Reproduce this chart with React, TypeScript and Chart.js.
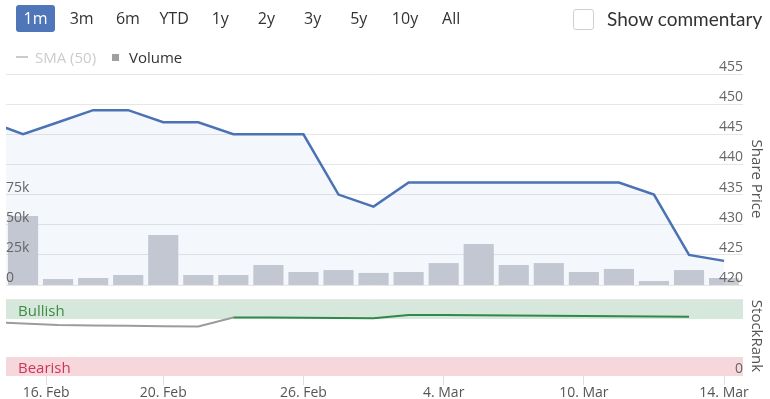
import React, { useEffect, useRef } from "react";
import { Chart, registerables } from "chart.js";

Chart.register(...registerables);

// ---- data ----
const dayIndex = [-1, 0, 1, 2, 3, 4, 5, 6, 7, 8, 9, 10, 11, 12, 13, 14, 15, 16, 17, 18, 19, 20];
const sharePrice = [447.2, 445, 447, 449, 449, 447, 447, 445, 445, 445, 435, 433, 437, 437, 437, 437, 437, 437, 437, 435, 425, 424];
const volume = [null, 57200, 5000, 5800, 8300, 41500, 8300, 8300, 16600, 10800, 12400, 10000, 10800, 18200, 34000, 16600, 18200, 10800, 13300, 3300, 12400, 5800];
const stockRank = [71, 69, 67.1, 66.6, 66.1, 65.6, 65.1, 77, 76.8, 76.7, 76.3, 75.9, 80.3, 80.1, 79.9, 79.6, 79.3, 79, 78.7, 78.4, 78, null];
const xTickPositions = [0.66, 4, 8, 12, 16, 20];
const xTickLabels = ["16. Feb", "20. Feb", "26. Feb", "4. Mar", "10. Mar", "14. Mar"];
const rangeButtons = ["1m", "3m", "6m", "YTD", "1y", "2y", "3y", "5y", "10y", "All"];
const bandLabels = ["Bullish", "Bearish"];
const bandFrom = [75, 0];
const bandTo = [100, 25];
const greenFromIndex = 6;

const X_MIN = -0.486;
const X_MAX = 20.54;
const FONT = "'Open Sans', 'DejaVu Sans', sans-serif";

const bandFill = ["#d6e8dc", "#f6d7dc"];
const bandText = ["#3d8b40", "#cf3358"];

const bandsPlugin = {
  id: "bands",
  beforeDatasetsDraw(chart: any) {
    const { ctx, chartArea, scales } = chart;
    const y = scales.y;
    ctx.save();
    bandLabels.forEach((label, i) => {
      const top = y.getPixelForValue(bandTo[i]);
      const bottom = y.getPixelForValue(bandFrom[i]);
      ctx.fillStyle = bandFill[i];
      ctx.fillRect(chartArea.left, top, chartArea.right - chartArea.left, bottom - top);
      ctx.fillStyle = bandText[i];
      ctx.font = "15px " + FONT;
      ctx.textBaseline = "middle";
      ctx.textAlign = "left";
      ctx.fillText(label, chartArea.left + 12, (top + bottom) / 2 + 2);
    });
    ctx.restore();
  },
};

const zeroWidth = (s: any) => {
  s.width = 0;
};

export default function App() {
  const mainRef = useRef<HTMLCanvasElement>(null);
  const rankRef = useRef<HTMLCanvasElement>(null);

  useEffect(() => {
    const tickFont = { family: FONT, size: 14 };
    const main = new Chart(mainRef.current as HTMLCanvasElement, {
      type: "line",
      data: {
        datasets: [
          {
            type: "line",
            label: "Share Price",
            data: dayIndex.map((x, i) => ({ x, y: sharePrice[i] })),
            yAxisID: "price",
            borderColor: "#4a72b4",
            borderWidth: 2.5,
            backgroundColor: "rgba(74,114,180,0.06)",
            fill: "start",
            pointRadius: 0,
            tension: 0,
            order: 1,
          } as any,
          {
            type: "bar",
            label: "Volume",
            data: dayIndex.map((x, i) => ({ x, y: volume[i] })),
            yAxisID: "vol",
            backgroundColor: "#cbcdd3",
            categoryPercentage: 0.86,
            barPercentage: 1,
            order: 2,
          } as any,
        ],
      },
      options: {
        animation: false,
        responsive: false,
        maintainAspectRatio: false,
        layout: { padding: { left: 6, right: 27, top: 74, bottom: 114 }, autoPadding: false } as any,
        plugins: { legend: { display: false }, tooltip: { enabled: false } },
        scales: {
          x: { type: "linear", min: X_MIN, max: X_MAX, display: false, offset: false },
          price: {
            type: "linear",
            position: "right",
            min: 420,
            max: 455,
            ticks: {
              stepSize: 5,
              mirror: true,
              padding: 0,
              labelOffset: -7,
              color: "#666",
              font: tickFont,
              z: 1,
            },
            grid: { color: "#e6e6e6", drawTicks: false },
            border: { display: false },
            afterFit: zeroWidth,
          },
          vol: {
            type: "linear",
            position: "left",
            min: 0,
            max: 175000,
            ticks: {
              stepSize: 25000,
              mirror: true,
              padding: 0,
              labelOffset: -7,
              color: "#666",
              font: tickFont,
              z: 1,
              callback: (v: any) => (v > 75000 ? "" : v === 0 ? "0" : v / 1000 + "k"),
            },
            grid: { display: false, drawTicks: false },
            border: { display: false },
            afterFit: zeroWidth,
          },
        } as any,
      },
    });

    const rank = new Chart(rankRef.current as HTMLCanvasElement, {
      type: "line",
      data: {
        datasets: [
          {
            label: "StockRank",
            data: dayIndex.map((x, i) => ({ x, y: stockRank[i] })),
            borderColor: "#2f8a47",
            borderWidth: 2,
            pointRadius: 0,
            fill: false,
            tension: 0,
            segment: {
              borderColor: (c: any) => (c.p0.parsed.x >= greenFromIndex ? "#2f8a47" : "#9c9c9c"),
            },
          } as any,
        ],
      },
      options: {
        animation: false,
        responsive: false,
        maintainAspectRatio: false,
        layout: { padding: { left: 6, right: 27, top: 299, bottom: 0 }, autoPadding: false } as any,
        plugins: { legend: { display: false }, tooltip: { enabled: false } },
        scales: {
          x: {
            type: "linear",
            min: X_MIN,
            max: X_MAX,
            offset: false,
            afterBuildTicks: (s: any) => {
              s.ticks = xTickPositions.map((v) => ({ value: v }));
            },
            ticks: {
              autoSkip: false,
              maxRotation: 0,
              padding: 0,
              color: "#555",
              font: tickFont,
              callback: (v: any) => {
                const i = xTickPositions.indexOf(v);
                return i >= 0 ? xTickLabels[i] : "";
              },
            },
            grid: { drawOnChartArea: false, drawTicks: true, tickLength: 9, color: "#dedede" },
            border: { display: false },
            afterFit: (s: any) => {
              s.height = 23;
            },
          },
          y: {
            type: "linear",
            position: "right",
            min: 0,
            max: 101.3,
            afterBuildTicks: (s: any) => {
              s.ticks = [{ value: 0 }, { value: 100 }];
            },
            ticks: {
              mirror: true,
              padding: 0,
              labelOffset: -7,
              color: "#666",
              font: tickFont,
              z: 1,
              callback: (v: any) => (v === 0 ? "0" : ""),
            },
            grid: {
              drawTicks: false,
              color: (c: any) => (c.tick && c.tick.value === 100 ? "#e6e6e6" : "rgba(0,0,0,0)"),
            },
            border: { display: false },
            afterFit: zeroWidth,
          },
        } as any,
      },
      plugins: [bandsPlugin],
    });

    return () => {
      main.destroy();
      rank.destroy();
    };
  }, []);

  const abs = (extra: React.CSSProperties): React.CSSProperties => ({ position: "absolute", ...extra });

  return (
    <div
      style={{
        position: "absolute",
        left: 0,
        top: 0,
        width: 770,
        height: 399,
        overflow: "hidden",
        background: "#fff",
        fontFamily: FONT,
      }}
    >
      <canvas ref={rankRef} width={770} height={399} style={abs({ left: 0, top: 0, display: "block" })} />
      <canvas ref={mainRef} width={770} height={399} style={abs({ left: 0, top: 0, display: "block" })} />

      {/* range selector */}
      <div style={abs({ left: 16, top: 5, display: "flex" })}>
        {rangeButtons.map((b, i) => (
          <div
            key={b}
            style={{
              width: 39,
              height: 27,
              marginRight: 7.2,
              borderRadius: 3,
              background: i === 0 ? "#4f76b8" : "transparent",
              color: i === 0 ? "#fff" : "#333",
              fontSize: 16,
              lineHeight: "27px",
              textAlign: "center",
            }}
          >
            {b}
          </div>
        ))}
      </div>

      {/* commentary checkbox */}
      <div
        style={abs({
          left: 573,
          top: 9,
          width: 21,
          height: 21,
          border: "1px solid #cfcfcf",
          borderRadius: 3,
          boxSizing: "border-box",
        })}
      />
      <div style={abs({ left: 607, top: 6, fontFamily: "Lato, sans-serif", fontSize: 19, lineHeight: "26px", color: "#333", whiteSpace: "nowrap" })}>
        Show commentary
      </div>

      {/* legend */}
      <div style={abs({ left: 16, top: 56, width: 12, height: 1.5, background: "#cccccc" })} />
      <div style={abs({ left: 35, top: 47, fontSize: 15, lineHeight: "20px", color: "#cccccc", whiteSpace: "nowrap" })}>SMA (50)</div>
      <div style={abs({ left: 112, top: 54, width: 7, height: 7, background: "#a0a0a0" })} />
      <div style={abs({ left: 129, top: 47, fontSize: 15, lineHeight: "20px", color: "#333", whiteSpace: "nowrap" })}>Volume</div>

      {/* axis titles */}
      <div
        style={abs({
          left: 758,
          top: 179,
          transform: "translate(-50%, -50%) rotate(90deg)",
          fontSize: 15,
          color: "#555",
          whiteSpace: "nowrap",
          lineHeight: "18px",
        })}
      >
        Share Price
      </div>
      <div
        style={abs({
          left: 758,
          top: 336,
          transform: "translate(-50%, -50%) rotate(90deg)",
          fontSize: 15,
          color: "#555",
          whiteSpace: "nowrap",
          lineHeight: "18px",
        })}
      >
        StockRank
      </div>
    </div>
  );
}
